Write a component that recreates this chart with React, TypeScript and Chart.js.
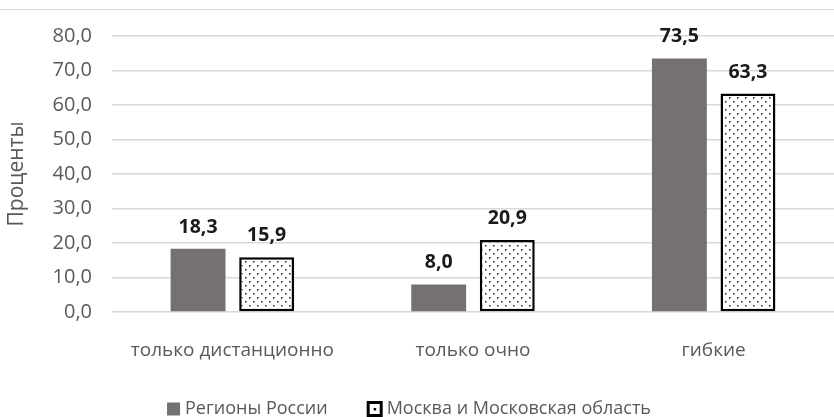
import React, { useEffect, useRef } from "react";
import { Chart, registerables } from "chart.js";

Chart.register(...registerables);

const categories = ["только дистанционно", "только очно", "гибкие"];
const regionsValues = [18.3, 8.0, 73.5];
const moscowValues = [15.9, 20.9, 63.3];
const seriesNames = ["Регионы России", "Москва и Московская область"];
const yTitle = "Проценты";

const FONT = "'Open Sans', Lato, sans-serif";
const TEXT = "#595959";

function makePattern(): CanvasPattern | string {
  const c = document.createElement("canvas");
  c.width = 8;
  c.height = 8;
  const ctx = c.getContext("2d");
  if (!ctx) return "#fff";
  ctx.fillStyle = "#ffffff";
  ctx.fillRect(0, 0, 8, 8);
  ctx.fillStyle = "#222222";
  ctx.fillRect(1, 1, 1.5, 1.5);
  ctx.fillRect(5, 5, 1.5, 1.5);
  const p = ctx.createPattern(c, "repeat");
  return p || "#fff";
}

export default function App() {
  const ref = useRef<HTMLCanvasElement | null>(null);

  useEffect(() => {
    if (!ref.current) return;
    const pattern = makePattern();

    const labelPlugin = {
      id: "valueLabels",
      afterDatasetsDraw(chart: any) {
        const ctx = chart.ctx;
        ctx.save();
        ctx.font = `bold 19.5px ${FONT}`;
        ctx.fillStyle = "#1a1a1a";
        ctx.textAlign = "center";
        ctx.textBaseline = "alphabetic";
        chart.data.datasets.forEach((ds: any, di: number) => {
          const meta = chart.getDatasetMeta(di);
          meta.data.forEach((bar: any, i: number) => {
            const v = ds.data[i] as number;
            ctx.fillText(v.toFixed(1).replace(".", ","), bar.x, bar.y - 16);
          });
        });
        ctx.restore();
      },
    };

    const legendPlugin = {
      id: "customLegend",
      afterDraw(chart: any) {
        const ctx = chart.ctx;
        ctx.save();
        ctx.font = `18px ${FONT}`;
        ctx.textBaseline = "middle";
        ctx.textAlign = "left";
        const y = 409;
        const w1 = ctx.measureText(seriesNames[0]).width;
        const w2 = ctx.measureText(seriesNames[1]).width;
        const total = 13 + 5 + w1 + 39 + 16 + 4 + w2;
        let x = (chart.width - total) / 2 - 8;
        ctx.fillStyle = "#767171";
        ctx.fillRect(x, y - 6.5, 13, 13);
        x += 13 + 5;
        ctx.fillStyle = TEXT;
        ctx.fillText(seriesNames[0], x, y);
        x += w1 + 39;
        ctx.fillStyle = "#000";
        ctx.fillRect(x, y - 8, 16, 16);
        ctx.fillStyle = "#fff";
        ctx.fillRect(x + 3, y - 5, 10, 10);
        ctx.fillStyle = "#000";
        ctx.fillRect(x + 7, y - 1, 2.5, 2.5);
        x += 16 + 4;
        ctx.fillStyle = TEXT;
        ctx.fillText(seriesNames[1], x, y);
        ctx.restore();
      },
    };

    const chart = new Chart(ref.current, {
      type: "bar",
      data: {
        labels: categories,
        datasets: [
          {
            label: seriesNames[0],
            data: regionsValues,
            backgroundColor: "#767171",
            borderWidth: 0,
            categoryPercentage: 0.57,
            barPercentage: 0.8,
          },
          {
            label: seriesNames[1],
            data: moscowValues,
            backgroundColor: pattern as any,
            borderColor: "#000000",
            borderWidth: 2.5,
            borderSkipped: false,
            categoryPercentage: 0.57,
            barPercentage: 0.8,
          },
        ],
      },
      plugins: [labelPlugin, legendPlugin],
      options: {
        responsive: false,
        animation: false,
        layout: { padding: { top: 36, left: 0, right: 0, bottom: 0 } },
        plugins: {
          legend: { display: false },
          tooltip: { enabled: false },
        },
        scales: {
          x: {
            grid: { display: false, drawTicks: false },
            border: { display: false },
            ticks: {
              color: TEXT,
              font: { family: FONT, size: 19 },
              padding: 27,
              maxRotation: 0,
            },
            afterFit(scale: any) {
              scale.height = 105;
            },
          },
          y: {
            min: 0,
            max: 80,
            ticks: {
              stepSize: 10,
              color: TEXT,
              font: { family: FONT, size: 20 },
              padding: 20,
              callback: (v: any) => Number(v).toFixed(1).replace(".", ","),
            },
            grid: { color: "#d9d9d9", lineWidth: 1.5, drawTicks: false },
            border: { display: false },
            title: {
              display: true,
              text: yTitle,
              color: TEXT,
              font: { family: FONT, size: 21 },
              padding: { top: 4, bottom: 0 },
            },
            afterFit(scale: any) {
              scale.width = 112;
            },
          },
        },
      },
    });
    return () => chart.destroy();
  }, []);

  return (
    <div style={{ position: "fixed", left: 0, top: 0, width: 834, height: 417, background: "#fff" }}>
      <div style={{ position: "absolute", left: 0, top: 9, width: 834, height: 0, borderTop: "1.5px solid #d9d9d9" }} />
      <canvas ref={ref} width={834} height={417} style={{ display: "block" }} />
    </div>
  );
}
